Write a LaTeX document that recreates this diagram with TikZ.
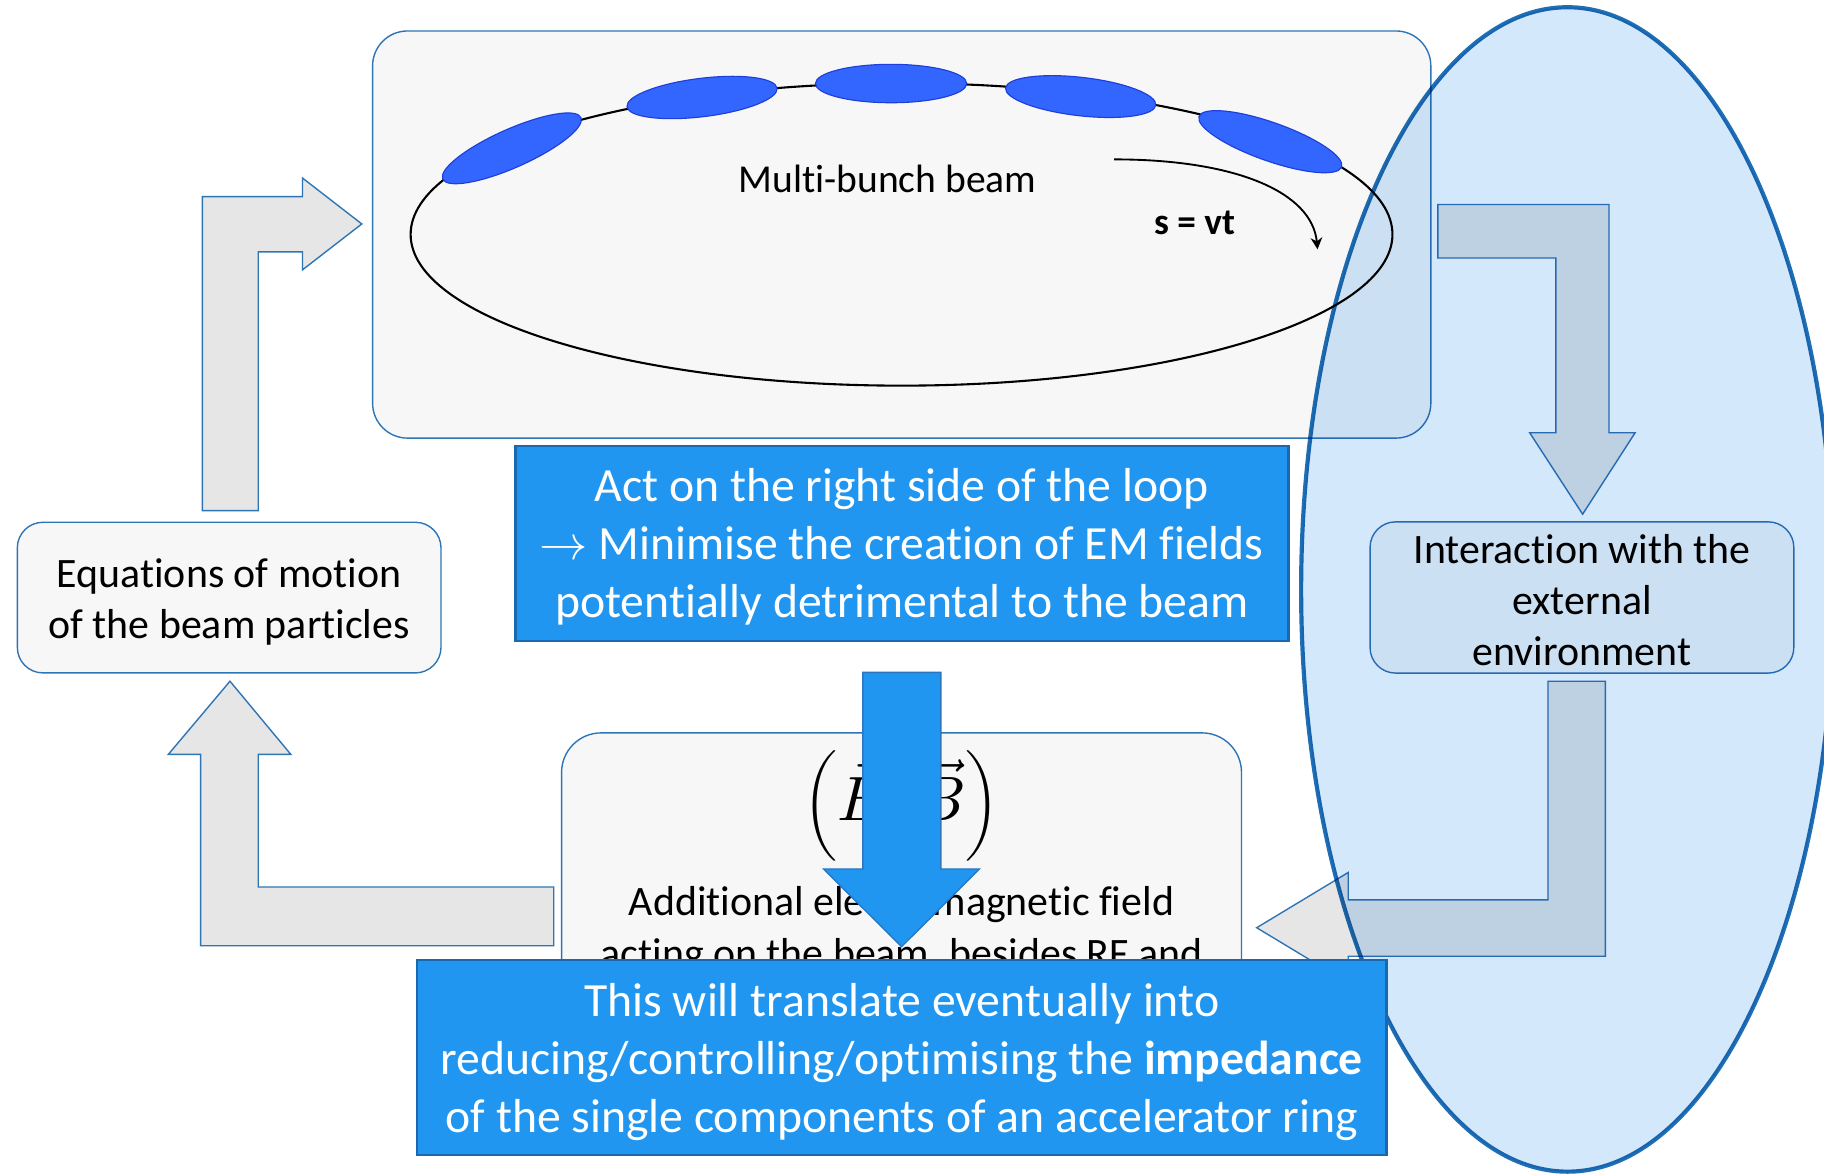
\documentclass[tikz,border=0pt]{standalone}
\usepackage{fontspec}
\setmainfont{Carlito}[Ligatures=NoCommon]
\usetikzlibrary{shapes.geometric,arrows.meta}

\definecolor{panelfill}{HTML}{F7F7F7}
\definecolor{panelline}{HTML}{2E75B6}
\definecolor{arrowgray}{HTML}{E6E6E6}
\definecolor{bunchfill}{HTML}{3366FF}
\definecolor{bunchline}{HTML}{1F3FD9}
\definecolor{envfill}{HTML}{D3E8FB}
\definecolor{envline}{HTML}{1E6FB4}
\definecolor{notefill}{HTML}{2196F0}
\definecolor{noteline}{HTML}{1B68AE}
\definecolor{pushline}{HTML}{2A77C0}

\begin{document}
\begin{tikzpicture}[x=0.5pt,y=-0.5pt,
  panelbox/.style={draw=panelline, line width=0.6pt, fill=panelfill,
    rounded corners=#1, inner sep=0pt},
  panelbox/.default=11pt,
  boxtext/.style={inner sep=0pt, align=center,
    font=\fontsize{18pt}{22pt}\selectfont},
  notebox/.style={draw=noteline, line width=1.1pt, fill=notefill,
    inner sep=0pt},
  notetext/.style={inner sep=0pt, align=center, text=white,
    font=\fontsize{20.5pt}{25pt}\selectfont},
  bunch/.style={ellipse, draw=bunchline, line width=0.5pt, fill=bunchfill,
    inner sep=0pt, minimum width=65pt, minimum height=16.5pt},
  grayarrow/.style={draw=panelline, line width=0.6pt, fill=arrowgray,
    line join=miter},
  bluearrow/.style={draw=pushline, line width=0.6pt, fill=notefill,
    line join=miter},
]
\useasboundingbox[fill=white] (0,0) rectangle (1568,1009);

% ---- the ring with its bunches ----
\node[panelbox=15pt, minimum width=454.85pt, minimum height=175pt]
  (beambox) at (775.15,201.6) {};
\node[ellipse, draw=black, line width=0.9pt, inner sep=0pt,
  minimum width=422pt, minimum height=130pt] (ring) at (775,201.5) {};
\node[bunch, rotate=24]   (b1) at (440,127.5) {};
\node[bunch, rotate=7]    (b2) at (603.5,83.8) {};
\node[bunch]              (b3) at (766,71.8) {};
\node[bunch, rotate=-6.5] (b4) at (929,83) {};
\node[bunch, rotate=-19.5](b5) at (1092,121.8) {};
\node[inner sep=0pt, font=\fontsize{17pt}{20pt}\selectfont]
  (beamname) at (763,154) {Multi-bunch beam};
\node[inner sep=0pt, font=\fontsize{16pt}{19pt}\selectfont\bfseries]
  (svt) at (1027,192) {s = vt};
\coordinate (dirstart) at (957.7,137);
\coordinate (dirend) at (1132.6,214.3);
\draw[line width=0.8pt, -{Stealth[length=5pt,width=5pt]}]
  (dirstart) .. controls (1062,137) and (1128,165) .. (dirend);

% ---- block arrows of the loop ----
\draw[grayarrow] (174,439) -- (174,169) -- (260,169) -- (260,153)
  -- (311,192.5) -- (260,232) -- (260,216.5) -- (222,216.5)
  -- (222,439) -- cycle;
\draw[grayarrow] (1236,175.8) -- (1383.2,175.8) -- (1383.2,372)
  -- (1405.6,372) -- (1360.5,442) -- (1315,372) -- (1337.5,372)
  -- (1337.5,221.8) -- (1236,221.8) -- cycle;
\draw[grayarrow] (1330.7,585.6) -- (1380,585.6) -- (1380,822)
  -- (1159,822) -- (1159,845) -- (1080.3,797.5) -- (1159,750)
  -- (1159,773.5) -- (1330.7,773.5) -- cycle;
\draw[grayarrow] (476,762.5) -- (476,813) -- (172.5,813)
  -- (172.5,648.5) -- (144.7,648.5) -- (197.7,585.6) -- (250,648.5)
  -- (222,648.5) -- (222,762.5) -- cycle;

% ---- boxes of the loop ----
\node[panelbox, minimum width=182.1pt, minimum height=64.75pt]
  (motion) at (197,513.7) {};
\node[boxtext] (motiontext) at (197,517.7)
  {Equations of motion\\of the beam particles};
\node[panelbox, minimum width=182.15pt, minimum height=65pt]
  (envbox) at (1359.9,513.6) {};
\node[boxtext] (envtext) at (1360,515.6)
  {Interaction with the\\external\\environment};
\node[panelbox=17pt, minimum width=292.25pt, minimum height=135pt]
  (fieldbox) at (775,765) {};
\node[inner sep=0pt, font=\fontsize{10pt}{12pt}\selectfont]
  (fields) at (775,692.5)
  {\raisebox{1.5pt}{\scalebox{1.98}{$\bigg($}}\scalebox{2.7}{$\vec{E},\vec{B}$}\raisebox{1.5pt}{\scalebox{1.98}{$\bigg)$}}};
\node[boxtext] (fieldtext) at (775,800)
  {Additional electromagnetic field\\acting on the beam, besides RF and};

% ---- the environment region ----
\begin{scope}[blend mode=multiply]
\node[ellipse, draw=envline, line width=1.8pt, fill=envfill, inner sep=0pt,
  minimum width=229pt, minimum height=500.5pt] (envzone) at (1347.5,506.7) {};
\end{scope}

% ---- conclusions ----
\node[notebox, minimum width=332.25pt, minimum height=83.8pt]
  (act) at (775.25,467.2) {};
\node[notetext] (acttext) at (775.25,470.2)
  {Act on the right side of the loop\\$\rightarrow$ Minimise the creation of EM fields\\potentially detrimental to the beam};
\draw[bluearrow] (741.7,578) -- (808.8,578) -- (808.8,747) -- (842,747)
  -- (775,813.8) -- (708,747) -- (741.7,747) -- cycle;
\node[notebox, minimum width=416.7pt, minimum height=83.9pt]
  (impbox) at (775.3,909.1) {};
\node[notetext] (imptext) at (775.3,913.1)
  {This will translate eventually into\\reducing/controlling/optimising the \textbf{impedance}\\of the single components of an accelerator ring};
\end{tikzpicture}
\end{document}
